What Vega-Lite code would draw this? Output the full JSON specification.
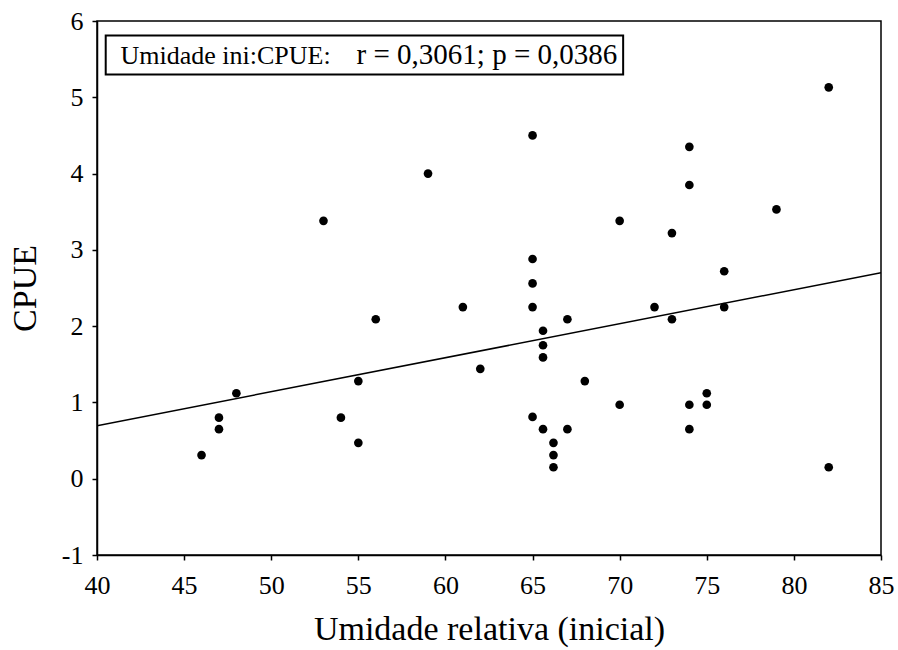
{
  "$schema": "https://vega.github.io/schema/vega-lite/v6.json",
  "autosize": "none",
  "width": 784,
  "height": 534,
  "padding": {"left": 97, "top": 21, "right": 17, "bottom": 95},
  "background": "white",
  "config": {
    "font": "Liberation Serif",
    "view": {"stroke": "black", "strokeWidth": 1.5},
    "axis": {
      "grid": false,
      "domainColor": "black",
      "domainWidth": 1.5,
      "tickColor": "black",
      "tickWidth": 1.5,
      "tickSize": 5,
      "labelFont": "Liberation Serif",
      "labelFontSize": 26,
      "labelColor": "black",
      "labelFlush": false,
      "titleFont": "Liberation Serif",
      "titleFontSize": 34,
      "titleFontWeight": "normal",
      "titleColor": "black"
    }
  },
  "datasets": {
    "pts": [
      {"umidade": 46, "cpue": 0.31},
      {"umidade": 47, "cpue": 0.80},
      {"umidade": 47, "cpue": 0.65},
      {"umidade": 48, "cpue": 1.12},
      {"umidade": 53, "cpue": 3.38},
      {"umidade": 54, "cpue": 0.80},
      {"umidade": 55, "cpue": 1.28},
      {"umidade": 55, "cpue": 0.47},
      {"umidade": 56, "cpue": 2.09},
      {"umidade": 59, "cpue": 4.00},
      {"umidade": 61, "cpue": 2.25},
      {"umidade": 62, "cpue": 1.44},
      {"umidade": 65, "cpue": 4.50},
      {"umidade": 65, "cpue": 2.88},
      {"umidade": 65, "cpue": 2.56},
      {"umidade": 65, "cpue": 2.25},
      {"umidade": 65, "cpue": 0.81},
      {"umidade": 65.6, "cpue": 1.94},
      {"umidade": 65.6, "cpue": 1.75},
      {"umidade": 65.6, "cpue": 1.59},
      {"umidade": 65.6, "cpue": 0.65},
      {"umidade": 66.2, "cpue": 0.47},
      {"umidade": 66.2, "cpue": 0.31},
      {"umidade": 66.2, "cpue": 0.15},
      {"umidade": 67, "cpue": 2.09},
      {"umidade": 67, "cpue": 0.65},
      {"umidade": 68, "cpue": 1.28},
      {"umidade": 70, "cpue": 3.38},
      {"umidade": 70, "cpue": 0.97},
      {"umidade": 72, "cpue": 2.25},
      {"umidade": 73, "cpue": 3.22},
      {"umidade": 73, "cpue": 2.09},
      {"umidade": 74, "cpue": 4.35},
      {"umidade": 74, "cpue": 3.85},
      {"umidade": 74, "cpue": 0.97},
      {"umidade": 74, "cpue": 0.65},
      {"umidade": 75, "cpue": 1.12},
      {"umidade": 75, "cpue": 0.97},
      {"umidade": 76, "cpue": 2.72},
      {"umidade": 76, "cpue": 2.25},
      {"umidade": 79, "cpue": 3.53},
      {"umidade": 82, "cpue": 5.13},
      {"umidade": 82, "cpue": 0.15}
    ],
    "fit": [
      {"umidade": 40, "cpue": 0.695},
      {"umidade": 85, "cpue": 2.70}
    ],
    "box": [
      {"x1": 40.5, "x2": 70.2, "y1": 5.30, "y2": 5.81}
    ],
    "label": [
      {"x": 41.35, "y": 5.435, "txt": "Umidade ini:CPUE:", "sz": 26},
      {"x": 54.9, "y": 5.435, "txt": "r = 0,3061; p = 0,0386", "sz": 29}
    ]
  },
  "layer": [
    {
      "data": {"name": "fit"},
      "mark": {"type": "line", "color": "black", "strokeWidth": 1.5, "clip": true},
      "encoding": {
        "x": {
          "field": "umidade", "type": "quantitative",
          "scale": {"domain": [40, 85], "nice": false, "zero": false},
          "axis": {"values": [40, 45, 50, 55, 60, 65, 70, 75, 80, 85], "labelExpr": "toString(datum.value)", "labelFontSize": 26, "labelFlush": false, "labelPadding": 12, "title": "Umidade relativa (inicial)", "titleFontSize": 34, "titlePadding": 14}
        },
        "y": {
          "field": "cpue", "type": "quantitative",
          "scale": {"domain": [-1, 6], "nice": false, "zero": false},
          "axis": {"values": [-1, 0, 1, 2, 3, 4, 5, 6], "labelExpr": "toString(datum.value)", "labelFontSize": 26, "labelFlush": false, "labelPadding": 9, "title": "CPUE", "titleFontSize": 34, "titlePadding": 19}
        }
      }
    },
    {
      "data": {"name": "pts"},
      "mark": {"type": "point", "filled": true, "color": "black", "size": 75, "opacity": 1, "shape": "circle"},
      "encoding": {
        "x": {"field": "umidade", "type": "quantitative"},
        "y": {"field": "cpue", "type": "quantitative"}
      }
    },
    {
      "data": {"name": "box"},
      "mark": {"type": "rect", "fill": "white", "stroke": "black", "strokeWidth": 2},
      "encoding": {
        "x": {"field": "x1", "type": "quantitative"},
        "x2": {"field": "x2"},
        "y": {"field": "y1", "type": "quantitative"},
        "y2": {"field": "y2"}
      }
    },
    {
      "data": {"name": "label"},
      "mark": {"type": "text", "align": "left", "baseline": "alphabetic", "color": "black", "font": "Liberation Serif"},
      "encoding": {
        "x": {"field": "x", "type": "quantitative"},
        "y": {"field": "y", "type": "quantitative"},
        "text": {"field": "txt"},
        "size": {"field": "sz", "type": "quantitative", "scale": null}
      }
    }
  ]
}
